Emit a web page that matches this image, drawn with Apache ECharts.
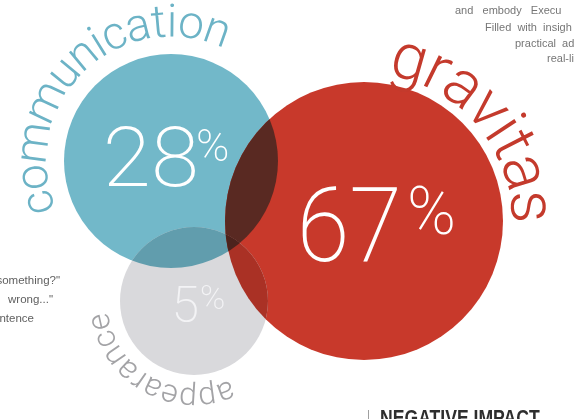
<!DOCTYPE html>
<html>
<head>
<meta charset="utf-8">
<script src="https://cdn.jsdelivr.net/npm/echarts@6/dist/echarts.min.js"></script>
<style>
html,body{margin:0;padding:0;background:#fff;}
#c{width:577px;height:419px;}
</style>
</head>
<body>
<div id="c"></div>
<script>
// ---- data ----
const circleNames = ['communication', 'gravitas', 'appearance'];
const circleShares = [28, 67, 5];

// ---- layout (in the hidden pixel-unit value axes) ----
const centerX = [171, 364, 194];
const centerY = [161, 221, 301];
const radius = [107, 139, 74];
const fillColors = ['#72b8c9', '#c8392b', '#d9d9dc'];
const arcTextColors = ['#6cb3c6', '#c43a2c', '#a3a3a6'];
const arcMidRadius = [136, 164, 95];
const arcStartDeg = [197.5, 74.2, -70.8];
const arcEndDeg = [70.5, 5.0, -167.4];
const arcFontSize = [46, 64, 32];
const numFontSize = [84, 104, 50];
const numScaleX = [1.04, 0.92, 1];
const numRightOff = [28, 38, 5];
const numMidOff = [4, 14, 8];
const pctFontSize = [45, 66, 34];
const pctLeftOff = [25, 43, 6];
const pctMidOff = [-11, -4, -1];
const numColors = ['#ffffff', '#ffffff', '#f3f3f5'];
// overlap sets (indices into the circle arrays, -1 = none)
const overlapSets = [[0, 1, -1], [0, 2, -1], [1, 2, -1], [0, 1, 2]];

const FONT = 'Roboto, "Open Sans", sans-serif';
const WEIGHT = 300;
const NUM_WEIGHT = 200;

const measureCtx = document.createElement('canvas').getContext('2d');
function charWidths(str, size) {
  measureCtx.font = WEIGHT + ' ' + size + 'px ' + FONT;
  return Array.from(str).map(ch => measureCtx.measureText(ch).width);
}
function hexToRgb(h) {
  return [parseInt(h.substr(1, 2), 16), parseInt(h.substr(3, 2), 16), parseInt(h.substr(5, 2), 16)];
}
function multiplyColors(list) {
  let acc = [255, 255, 255];
  list.forEach(c => {
    const rgb = hexToRgb(c);
    acc = acc.map((v, k) => v * rgb[k] / 255);
  });
  return 'rgb(' + acc.map(Math.round).join(',') + ')';
}

const circleData = circleNames.map((n, i) => [centerX[i], centerY[i], radius[i], circleShares[i], i]);

const chart = echarts.init(document.getElementById('c'), null, {renderer: 'canvas'});

function circleShape(api, k) {
  const c = api.coord([centerX[k], centerY[k]]);
  return {cx: c[0], cy: c[1], r: api.size([radius[k], 0])[0]};
}

chart.setOption({
  backgroundColor: '#ffffff',
  animation: false,
  grid: {left: 0, right: 0, top: 0, bottom: 0},
  xAxis: {type: 'value', min: 0, max: 577, show: false},
  yAxis: {type: 'value', min: 0, max: 419, inverse: true, show: false},
  series: [
    {
      type: 'custom',
      silent: true,
      data: circleData,
      z: 2,
      renderItem: function (params, api) {
        const i = api.value(4);
        const c = api.coord([api.value(0), api.value(1)]);
        const r = api.size([api.value(2), 0])[0];
        return {
          type: 'circle',
          shape: {cx: c[0], cy: c[1], r: r},
          style: {fill: fillColors[i]}
        };
      }
    },
    {
      type: 'custom',
      silent: true,
      data: overlapSets,
      z: 3,
      renderItem: function (params, api) {
        const idx = [api.value(0), api.value(1), api.value(2)].filter(v => v >= 0);
        const fill = multiplyColors(idx.map(k => fillColors[k]));
        let el = {
          type: 'circle',
          shape: circleShape(api, idx[0]),
          style: {fill: fill},
          clipPath: {type: 'circle', shape: circleShape(api, idx[1])}
        };
        if (idx.length > 2) {
          el = {type: 'group', children: [el], clipPath: {type: 'circle', shape: circleShape(api, idx[2])}};
        }
        return el;
      }
    },
    {
      type: 'custom',
      silent: true,
      data: circleData,
      z: 5,
      renderItem: function (params, api) {
        const i = api.value(4);
        const c = api.coord([api.value(0), api.value(1)]);
        return {
          type: 'group',
          children: [
            {
              type: 'text', x: c[0] + numRightOff[i], y: c[1] + numMidOff[i], scaleX: numScaleX[i],
              style: {text: String(api.value(3)), fill: numColors[i], fontSize: numFontSize[i],
                fontFamily: FONT, fontWeight: NUM_WEIGHT, align: 'right', verticalAlign: 'middle'}
            },
            {
              type: 'text', x: c[0] + pctLeftOff[i], y: c[1] + pctMidOff[i],
              style: {text: '%', fill: numColors[i], fontSize: pctFontSize[i],
                fontFamily: FONT, fontWeight: NUM_WEIGHT, align: 'left', verticalAlign: 'middle'}
            }
          ]
        };
      }
    },
    {
      type: 'custom',
      silent: true,
      data: circleData,
      z: 6,
      renderItem: function (params, api) {
        const i = api.value(4);
        const c = api.coord([api.value(0), api.value(1)]);
        const text = circleNames[i];
        const fs = arcFontSize[i];
        const ws = charWidths(text, fs);
        const chars = Array.from(text);
        const n = chars.length;
        const Rm = api.size([arcMidRadius[i], 0])[0];
        const a0 = arcStartDeg[i] * Math.PI / 180;
        const a1 = arcEndDeg[i] * Math.PI / 180;
        const L = (a0 - a1) * Rm;
        let natural = ws[0] / 2 + ws[n - 1] / 2;
        for (let k = 1; k < n - 1; k++) natural += ws[k];
        const gap = (L - natural) / (n - 1);
        let s = 0;
        const children = [];
        for (let k = 0; k < n; k++) {
          if (k > 0) s += ws[k - 1] / 2 + gap + ws[k] / 2;
          const th = a0 - s / Rm;
          children.push({
            type: 'text',
            x: c[0] + Rm * Math.cos(th),
            y: c[1] - Rm * Math.sin(th),
            rotation: th - Math.PI / 2,
            style: {text: chars[k], fill: arcTextColors[i], fontSize: fs, fontFamily: FONT,
              fontWeight: WEIGHT, align: 'center', verticalAlign: 'middle'}
          });
        }
        return {type: 'group', children: children};
      }
    }
  ],
  graphic: [
    {type: 'text', x: 455, y: 11, silent: true, style: {text: 'and   embody   Execu', fill: '#767676', fontSize: 11, fontFamily: 'Liberation Sans, sans-serif', verticalAlign: 'middle'}},
    {type: 'text', x: 485, y: 27.5, silent: true, style: {text: 'Filled  with  insigh', fill: '#767676', fontSize: 11, fontFamily: 'Liberation Sans, sans-serif', verticalAlign: 'middle'}},
    {type: 'text', x: 515, y: 43.5, silent: true, style: {text: 'practical  ad', fill: '#767676', fontSize: 11, fontFamily: 'Liberation Sans, sans-serif', verticalAlign: 'middle'}},
    {type: 'text', x: 547, y: 59, silent: true, style: {text: 'real-li', fill: '#767676', fontSize: 11, fontFamily: 'Liberation Sans, sans-serif', verticalAlign: 'middle'}},
    {type: 'text', x: 60, y: 281, silent: true, style: {text: 'something?"', fill: '#606060', fontSize: 11.5, fontFamily: 'Liberation Sans, sans-serif', align: 'right', verticalAlign: 'middle'}},
    {type: 'text', x: 53, y: 300, silent: true, style: {text: 'wrong..."', fill: '#606060', fontSize: 11.5, fontFamily: 'Liberation Sans, sans-serif', align: 'right', verticalAlign: 'middle'}},
    {type: 'text', x: 34, y: 319, silent: true, style: {text: 'sentence', fill: '#606060', fontSize: 11.5, fontFamily: 'Liberation Sans, sans-serif', align: 'right', verticalAlign: 'middle'}},
    {type: 'rect', silent: true, shape: {x: 368, y: 410, width: 1, height: 12}, style: {fill: '#a0a0a0'}},
    {type: 'text', x: 380, y: 408, scaleX: 0.8, silent: true, style: {text: 'NEGATIVE IMPACT', fill: '#2e2e2e', fontSize: 22, fontWeight: 'bold', fontFamily: '"Liberation Sans Narrow", "Liberation Sans", sans-serif', verticalAlign: 'top'}}
  ]
});
</script>
</body>
</html>
